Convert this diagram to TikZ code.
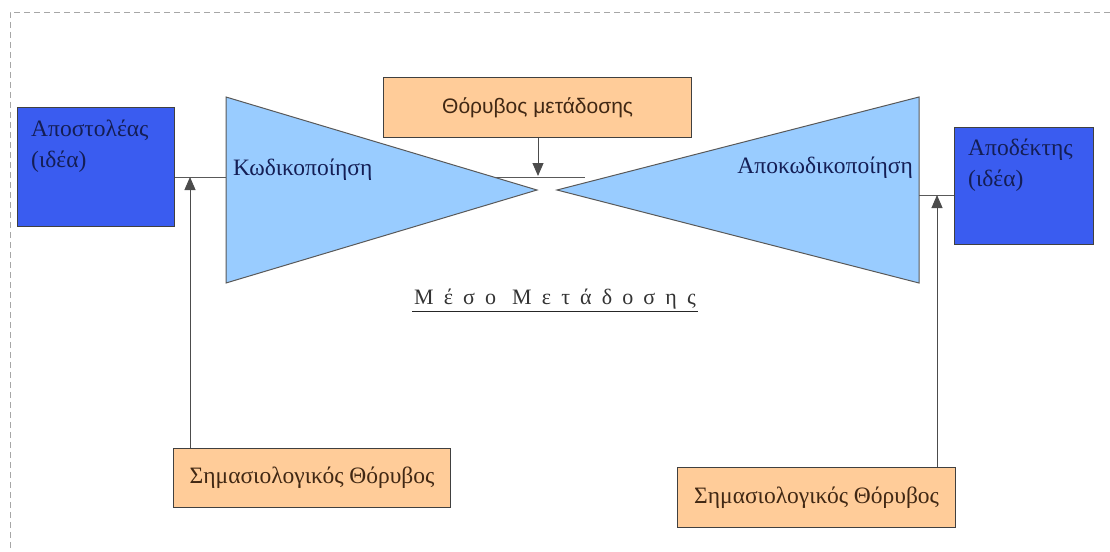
\documentclass[tikz,border=0pt]{standalone}
\usepackage{fontspec}
\setmainfont{Liberation Serif}
\newfontfamily\arialfont{Liberation Sans}
\usetikzlibrary{arrows.meta,positioning}
\definecolor{ideablue}{RGB}{58,92,240}
\definecolor{codeblue}{RGB}{153,204,255}
\definecolor{noiseorange}{RGB}{255,204,153}
\definecolor{navytext}{RGB}{20,30,85}
\definecolor{browntext}{RGB}{65,40,20}

\begin{document}
\begin{tikzpicture}[x=1pt,y=-1pt,
    idea/.style={draw=black!75,fill=ideablue,line width=1.3pt,anchor=north west},
    ideatext/.style={anchor=north west,align=left,text=navytext,font=\fontsize{23.5}{31}\selectfont,inner sep=0pt},
    coder/.style={draw=black!65,fill=codeblue,line width=1pt},
    codetext/.style={text=navytext,font=\fontsize{23.5}{26}\selectfont,inner sep=0pt},
    noise/.style={draw=black!75,fill=noiseorange,line width=1.2pt,text=browntext,anchor=north west},
    wire/.style={draw=black!65,line width=1pt},
    noisearrow/.style={draw=black!70,line width=1pt,-{Triangle[length=13pt,width=11pt]}}]
    \useasboundingbox (0,0) rectangle (1110,551);
    % frame
    \draw[black!35,dashed,dash pattern=on 6pt off 4pt,line width=0.8pt] (1110,12) -- (10,12) -- (10,551);

    % points on the wires
    \coordinate (joinL) at (190,177);
    \coordinate (joinR) at (937,195);
    \coordinate (joinM) at (538,176);
    \coordinate (midEnd) at (585,177);
    \coordinate (decRight) at (919,190);

    % sender and receiver
    \node[idea,minimum width=157pt,minimum height=119pt] (sender) at (17,107) {};
    \node[ideatext] (sendertext) at (31,120) {Αποστολέας\\(ιδέα)};
    \node[idea,minimum width=139pt,minimum height=117pt] (receiver) at (954,127) {};
    \node[ideatext] (receivertext) at (968,139) {Αποδέκτης\\(ιδέα)};

    % channel line, under the coders
    \draw[wire] (sender.east |- joinL) -- (midEnd);

    % coders
    \filldraw[coder] (226,97) -- (226,283) -- (537,190) -- cycle;
    \filldraw[coder] (919,97) -- (919,283) -- (557,190) -- cycle;
    \node[codetext,anchor=west] (enc) at (233,170) {Κωδικοποίηση};
    \node[codetext,anchor=east] (dec) at (913,168) {Αποκωδικοποίηση};
    \draw[wire] (decRight |- joinR) -- (receiver.west |- joinR);

    % noise
    \node[noise,minimum width=308pt,minimum height=60pt,font=\arialfont\fontsize{21}{24}\selectfont] (transnoise) at (383,77) {Θόρυβος μετάδοσης};
    \node[noise,minimum width=277pt,minimum height=59pt,font=\fontsize{23.5}{26}\selectfont] (noiseL) at (173,448) {Σημασιολογικός Θόρυβος};
    \node[noise,minimum width=278pt,minimum height=60pt,font=\fontsize{23.5}{26}\selectfont] (noiseR) at (677,467) {Σημασιολογικός Θόρυβος};
    \draw[noisearrow] (transnoise.south -| joinM) -- (joinM);
    \draw[noisearrow] (noiseL.north west -| joinL) -- (joinL);
    \draw[noisearrow] (noiseR.north west -| joinR) -- (joinR);

    % medium
    \node[text=black!80,inner sep=2pt,font=\fontsize{22}{24}\selectfont\addfontfeature{LetterSpace=46}] (medium) at (555,299) {Μέσο\kern 16pt Μετάδοσης};
    \draw[black!85,line width=1.2pt] (medium.south west) -- (medium.south east);
\end{tikzpicture}
\end{document}
